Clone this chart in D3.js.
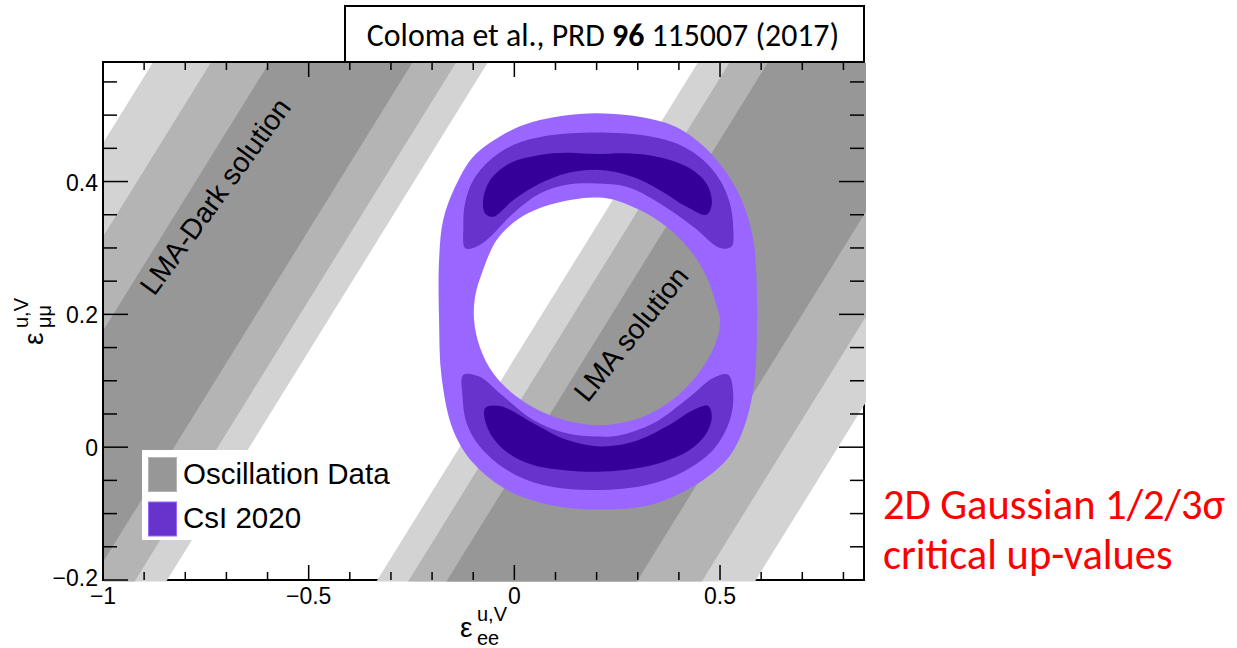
<!DOCTYPE html>
<html>
<head>
<meta charset="utf-8">
<script src="https://cdn.jsdelivr.net/npm/d3@7"></script>
<style>
  html, body { margin: 0; padding: 0; background: #ffffff; }
  svg { display: block; }
</style>
</head>
<body>
<svg id="chart" width="1237" height="648"></svg>
<script>
// ---- axes -------------------------------------------------------------
const xDomain = [-1, 0.85];
const yDomain = [-0.2, 0.58];
const xMajorTicks = [-1, -0.5, 0, 0.5];
const xTickLabels = ["\u22121", "\u22120.5", "0", "0.5"];
const yMajorTicks = [-0.2, 0, 0.2, 0.4];
const yTickLabels = ["\u22120.2", "0", "0.2", "0.4"];

// ---- oscillation data: allowed stripes  eps_mumu - eps_ee = c  ---------
// index 0 = 3 sigma, 1 = 2 sigma, 2 = 1 sigma
const oscColors = ["#d3d3d3", "#b4b4b4", "#979797"];
const lmaDarkLow  = [0.644, 0.721, 0.827];
const lmaDarkHigh = [1.458, 1.317, 1.175];
const lmaLow      = [-0.787, -0.658, -0.500];
const lmaHigh     = [0.133, 0.056, -0.037];

// ---- CsI 2020 allowed regions (eps_ee, eps_mumu) ------------------------
const csiColors = ["#9966ff", "#6633cc", "#330099"];
const csi3Outer = [
  [0.200, 0.503], [0.370, 0.488], [0.451, 0.458], [0.516, 0.413], [0.556, 0.367],
  [0.581, 0.312], [0.589, 0.247], [0.590, 0.177], [0.582, 0.091], [0.556, 0.026],
  [0.516, -0.019], [0.435, -0.059], [0.330, -0.087], [0.200, -0.094], [0.087, -0.087],
  [-0.019, -0.064], [-0.100, -0.024], [-0.149, 0.026], [-0.177, 0.106], [-0.183, 0.192],
  [-0.183, 0.282], [-0.173, 0.342], [-0.144, 0.392], [-0.100, 0.4375], [-0.035, 0.468],
  [0.046, 0.490]
];
const csi3Inner = [
  [0.192, 0.376], [0.240, 0.373], [0.305, 0.357], [0.370, 0.332], [0.427, 0.297],
  [0.467, 0.257], [0.492, 0.212], [0.500, 0.192], [0.492, 0.161], [0.459, 0.121],
  [0.403, 0.081], [0.313, 0.046], [0.200, 0.033], [0.087, 0.048], [0.006, 0.076],
  [-0.051, 0.111], [-0.084, 0.151], [-0.098, 0.192], [-0.095, 0.228], [-0.079, 0.262],
  [-0.043, 0.312], [0.006, 0.342], [0.070, 0.362], [0.143, 0.373]
];
const csi2Top = [
  [-0.120, 0.300], [-0.124, 0.332], [-0.120, 0.367], [-0.100, 0.402], [-0.059, 0.4325],
  [-0.003, 0.455], [0.079, 0.469], [0.200, 0.474], [0.322, 0.469], [0.403, 0.455],
  [0.459, 0.4325], [0.500, 0.402], [0.524, 0.367], [0.532, 0.332], [0.528, 0.302],
  [0.500, 0.300], [0.435, 0.332], [0.354, 0.367], [0.273, 0.392], [0.200, 0.397],
  [0.127, 0.395], [0.062, 0.382], [-0.003, 0.352], [-0.067, 0.312], [-0.100, 0.300]
];
const csi2Bottom = [
  [-0.124, 0.109], [-0.084, 0.106], [-0.035, 0.081], [0.046, 0.041], [0.127, 0.021],
  [0.200, 0.016], [0.257, 0.018], [0.338, 0.036], [0.427, 0.076], [0.4835, 0.104],
  [0.520, 0.109], [0.532, 0.081], [0.524, 0.041], [0.4835, -0.004], [0.4105, -0.037],
  [0.322, -0.057], [0.200, -0.0645], [0.070, -0.057], [-0.019, -0.034], [-0.084, 0.001],
  [-0.116, 0.036], [-0.126, 0.076]
];
const csi1Top = [
  [-0.076, 0.372], [-0.059, 0.402], [-0.011, 0.4275], [0.062, 0.440], [0.127, 0.4435],
  [0.200, 0.4415], [0.273, 0.4425], [0.346, 0.4375], [0.419, 0.4225], [0.467, 0.397],
  [0.480, 0.367], [0.467, 0.350], [0.419, 0.362], [0.354, 0.387], [0.289, 0.407],
  [0.208, 0.4175], [0.127, 0.4125], [0.062, 0.397], [-0.003, 0.372], [-0.051, 0.347],
  [-0.071, 0.352]
];
const csi1Bottom = [
  [-0.071, 0.059], [-0.035, 0.062], [0.046, 0.036], [0.127, 0.011], [0.208, 0.001],
  [0.289, 0.008], [0.370, 0.031], [0.435, 0.056], [0.471, 0.062], [0.480, 0.046],
  [0.467, 0.021], [0.427, -0.004], [0.354, -0.024], [0.273, -0.034], [0.200, -0.037],
  [0.127, -0.035], [0.046, -0.027], [-0.019, -0.007], [-0.063, 0.026]
];

// ---- labels -----------------------------------------------------------
const solutionLabels = ["LMA-Dark solution", "LMA solution"];
const solutionLabelPos = [[-0.728, 0.378], [0.283, 0.171]];
const solutionLabelAngle = [-54, -51];
const legendLabels = ["Oscillation Data", "CsI 2020"];
const legendColors = [oscColors[2], csiColors[1]];
const legendBorders = [oscColors[1], csiColors[0]];

// ---- layout -----------------------------------------------------------
const X0 = 103, X1 = 864, Y0 = 62, Y1 = 580;
const svg = d3.select("#chart");
const x = d3.scaleLinear().domain(xDomain).range([X0, X1]);
const y = d3.scaleLinear().domain(yDomain).range([Y1, Y0]);
const rootFont = "'Liberation Sans', Arial, Helvetica, sans-serif";
const slideFont = "Carlito, Calibri, 'Open Sans', sans-serif";

svg.append("defs").append("clipPath").attr("id", "plotClip")
  .append("rect").attr("x", X0 + 1).attr("y", Y0 + 1)
  .attr("width", X1 - X0 + 1).attr("height", Y1 - Y0 + 0.5);

// right and bottom frame (the filled contours sit on top of them)
svg.append("line").attr("x1", X1).attr("y1", Y0).attr("x2", X1).attr("y2", Y1 + 1)
  .attr("stroke", "#000").attr("stroke-width", 2);
svg.append("line").attr("x1", X0).attr("y1", Y1).attr("x2", X1 + 1).attr("y2", Y1)
  .attr("stroke", "#000").attr("stroke-width", 2);

// ---- oscillation stripes ----------------------------------------------
const plot = svg.append("g").attr("clip-path", "url(#plotClip)");
function stripe(lo, hi) {
  const a = -3, b = 3;
  return [[a, a + lo], [b, b + lo], [b, b + hi], [a, a + hi]];
}
const polyLine = d3.line().x(d => x(d[0])).y(d => y(d[1]));
[[lmaDarkLow, lmaDarkHigh], [lmaLow, lmaHigh]].forEach(([lo, hi]) => {
  plot.selectAll(null)
    .data(lo.map((l, i) => ({ l, h: hi[i], i })))
    .enter().append("path")
    .attr("d", d => polyLine(stripe(d.l, d.h)) + "Z")
    .attr("fill", d => oscColors[d.i]);
});

// ---- CsI contours -----------------------------------------------------
const smooth = d3.line().x(d => x(d[0])).y(d => y(d[1]))
  .curve(d3.curveCatmullRomClosed.alpha(0.5));
plot.append("path")
  .attr("d", smooth(csi3Outer) + smooth(csi3Inner))
  .attr("fill", csiColors[0]).attr("fill-rule", "evenodd");
[csi2Top, csi2Bottom].forEach(c =>
  plot.append("path").attr("d", smooth(c)).attr("fill", csiColors[1]));
[csi1Top, csi1Bottom].forEach(c =>
  plot.append("path").attr("d", smooth(c)).attr("fill", csiColors[2]));

// ---- solution labels --------------------------------------------------
solutionLabels.forEach((t, i) => {
  const p = solutionLabelPos[i];
  svg.append("text")
    .attr("transform", `translate(${x(p[0])},${y(p[1])}) rotate(${solutionLabelAngle[i]})`)
    .attr("text-anchor", "middle").attr("dy", "0.36em")
    .attr("font-family", rootFont).attr("font-size", 28.5).attr("fill", "#000")
    .text(t);
});

// ---- legend -----------------------------------------------------------
const leg = svg.append("g");
leg.append("rect").attr("x", 142).attr("y", 450).attr("width", 253).attr("height", 90)
  .attr("fill", "#fff");
legendLabels.forEach((t, i) => {
  const top = 457.5 + i * 44.5;
  leg.append("rect").attr("x", 148.5).attr("y", top).attr("width", 28).attr("height", 34)
    .attr("fill", legendColors[i]).attr("stroke", legendBorders[i]).attr("stroke-width", 1);
  leg.append("text").attr("x", 183).attr("y", top + 26)
    .attr("font-family", rootFont).attr("font-size", 29.5).attr("fill", "#000")
    .text(t);
});

// ---- left / top frame and ticks ---------------------------------------
svg.append("line").attr("x1", X0).attr("y1", Y0 - 1).attr("x2", X0).attr("y2", Y1 + 1)
  .attr("stroke", "#000").attr("stroke-width", 2);
svg.append("line").attr("x1", X0 - 1).attr("y1", Y0).attr("x2", X1 + 1).attr("y2", Y0)
  .attr("stroke", "#000").attr("stroke-width", 2);

const xTicksAll = d3.range(-10, 9).map(i => i / 10);
const yTicksAll = d3.range(-4, 12).map(i => i / 20);
const isMajorX = v => xMajorTicks.some(m => Math.abs(m - v) < 1e-9);
const isMajorY = v => yMajorTicks.some(m => Math.abs(m - v) < 1e-9);
const ticks = svg.append("g").attr("stroke", "#000").attr("stroke-width", 1.5);
xTicksAll.forEach(v => {
  const len = isMajorX(v) ? 15 : 8;
  ticks.append("line").attr("x1", x(v)).attr("x2", x(v)).attr("y1", Y1).attr("y2", Y1 - len);
  ticks.append("line").attr("x1", x(v)).attr("x2", x(v)).attr("y1", Y0).attr("y2", Y0 + len);
});
yTicksAll.forEach(v => {
  const len = isMajorY(v) ? 25 : 14;
  ticks.append("line").attr("y1", y(v)).attr("y2", y(v)).attr("x1", X0).attr("x2", X0 + len);
  ticks.append("line").attr("y1", y(v)).attr("y2", y(v)).attr("x1", X1).attr("x2", X1 - len);
});

// tick labels
xMajorTicks.forEach((v, i) => {
  svg.append("text").attr("x", x(v)).attr("y", Y1 + 24)
    .attr("text-anchor", "middle").attr("font-family", rootFont).attr("font-size", 23)
    .text(xTickLabels[i]);
});
yMajorTicks.forEach((v, i) => {
  svg.append("text").attr("x", X0 - 5).attr("y", y(v) + (i === 0 ? 6 : 9))
    .attr("text-anchor", "end").attr("font-family", rootFont).attr("font-size", 23)
    .text(yTickLabels[i]);
});

// axis titles
const xt = svg.append("text").attr("font-family", rootFont).attr("fill", "#000");
xt.append("tspan").attr("x", 460).attr("y", 637).attr("font-size", 28).text("\u03b5");
xt.append("tspan").attr("x", 477).attr("y", 621).attr("font-size", 20).text("u,V");
xt.append("tspan").attr("x", 477).attr("y", 645).attr("font-size", 20).text("ee");

const yt = svg.append("text").attr("font-family", rootFont).attr("fill", "#000")
  .attr("transform", "translate(43,345) rotate(-90)");
yt.append("tspan").attr("x", 0).attr("y", 0).attr("font-size", 28).text("\u03b5");
yt.append("tspan").attr("x", 17).attr("y", -15).attr("font-size", 20).text("u,V");
yt.append("tspan").attr("x", 17).attr("y", 8).attr("font-size", 20).text("\u03bc\u03bc");

// ---- reference box ----------------------------------------------------
svg.append("rect").attr("x", 345).attr("y", 6).attr("width", X1 - 345).attr("height", Y0 - 6)
  .attr("fill", "#fff").attr("stroke", "#000").attr("stroke-width", 2);
const ref = svg.append("text").attr("x", 603).attr("y", 46).attr("text-anchor", "middle")
  .attr("font-family", slideFont).attr("font-size", 31.8).attr("fill", "#000");
ref.append("tspan").text("Coloma et al., PRD ");
ref.append("tspan").attr("font-weight", "bold").text("96");
ref.append("tspan").text(" 115007 (2017)");

// ---- side note --------------------------------------------------------
const note = svg.append("text").attr("font-family", slideFont).attr("font-size", 42.5)
  .attr("fill", "#ff0000");
note.append("tspan").attr("x", 883).attr("y", 519).text("2D Gaussian 1/2/3\u03c3");
note.append("tspan").attr("x", 883).attr("y", 569).text("critical up-values");
</script>
</body>
</html>
